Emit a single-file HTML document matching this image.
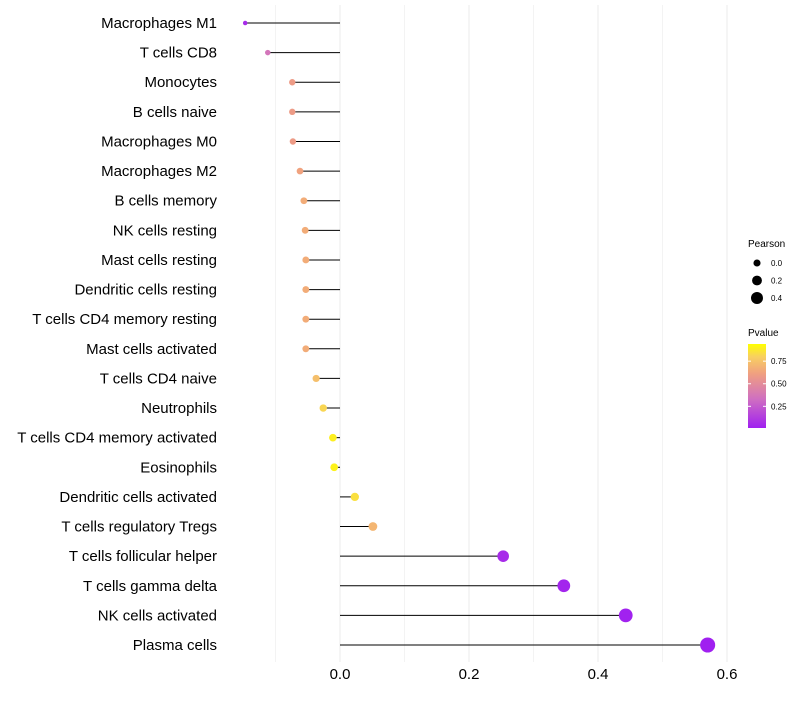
<!DOCTYPE html>
<html><head><meta charset="utf-8"><style>
body{margin:0;background:#fff;font-family:"Liberation Sans",sans-serif}
svg text{font-family:"Liberation Sans",sans-serif}
</style></head><body>
<svg id="c" width="800" height="700">
<defs><linearGradient id="pg" x1="0" y1="1" x2="0" y2="0">
<stop offset="0" stop-color="#a020f0"/><stop offset="0.35" stop-color="#d070c0"/><stop offset="0.65" stop-color="#f0a080"/><stop offset="0.85" stop-color="#f8d060"/><stop offset="1" stop-color="#ffff00"/></linearGradient></defs>
<g id="grid"></g><g id="marks"></g><g id="labels"></g><g id="ticks"></g>
<g id="legend">
<text x="748" y="247" font-size="10">Pearson</text>
<text x="748" y="336" font-size="10">Pvalue</text>
<rect x="748" y="344" width="18" height="84" fill="url(#pg)"/>
</g>
</svg>
<script>
const cats=["Macrophages M1","T cells CD8","Monocytes","B cells naive","Macrophages M0","Macrophages M2","B cells memory","NK cells resting","Mast cells resting","Dendritic cells resting","T cells CD4 memory resting","Mast cells activated","T cells CD4 naive","Neutrophils","T cells CD4 memory activated","Eosinophils","Dendritic cells activated","T cells regulatory  Tregs","T cells follicular helper","T cells gamma delta","NK cells activated","Plasma cells"];
const pearson=[-0.147,-0.112,-0.074,-0.074,-0.073,-0.062,-0.056,-0.054,-0.053,-0.053,-0.053,-0.053,-0.037,-0.026,-0.011,-0.009,0.023,0.051,0.253,0.347,0.443,0.570];
const pvals=[0.05,0.38,0.62,0.62,0.62,0.66,0.7,0.7,0.7,0.7,0.7,0.7,0.78,0.87,0.95,0.96,0.9,0.74,0.05,0.02,0.01,0.001];
const xTicks=[0,0.2,0.4,0.6];
const xTickLabels=["0.0","0.2","0.4","0.6"];
const sizeLegend=[0,0.2,0.4];
const colorTicks=[0.25,0.5,0.75];
const colorTickLabels=["0.25","0.50","0.75"];
const NS="http://www.w3.org/2000/svg";
const x=v=>340+v*645;
const y=i=>23+i*(622/21);
const r=v=>Math.sqrt(Math.max(2,5+72*(v+0.147)));
const stops=[[0,[160,32,240]],[0.35,[208,112,192]],[0.65,[240,160,128]],[0.85,[248,208,96]],[1,[255,255,0]]];
function col(p){for(let k=1;k<stops.length;k++){if(p<=stops[k][0]){const a=stops[k-1],b=stops[k];const t=(p-a[0])/(b[0]-a[0]);const c=a[1].map((v,j)=>Math.round(v+(b[1][j]-v)*t));return `rgb(${c})`;}}return "rgb(255,255,0)";}
function mk(t,at,parent){const e=document.createElementNS(NS,t);for(const k in at)e.setAttribute(k,at[k]);document.getElementById(parent).appendChild(e);return e;}
for(let v=-0.1;v<=0.65;v+=0.1){const g=mk("line",{x1:x(v),x2:x(v),y1:5,y2:662,stroke:"#ebebeb","stroke-width":Math.abs(Math.round(v*10)%2)==0?1:0.6},"grid");

}
cats.forEach((c,i)=>{
const l=mk("line",{x1:x(0),x2:x(pearson[i]),y1:y(i),y2:y(i),stroke:"#000","stroke-width":1},"marks");


const d=mk("circle",{cx:x(pearson[i]),cy:y(i),r:r(pearson[i]),fill:col(pvals[i])},"marks");


const t=mk("text",{x:217,y:y(i)+5,"text-anchor":"end","font-size":15,fill:"#000"},"labels");
t.textContent=c;


});
xTicks.forEach((v,i)=>{const t=mk("text",{x:x(v),y:679,"text-anchor":"middle","font-size":15,fill:"#000"},"ticks");
t.textContent=xTickLabels[i];

});
sizeLegend.forEach((v,i)=>{const cy=263+i*17.5;
const d=mk("circle",{cx:757,cy:cy,r:r(v)*0.9,fill:"#000"},"legend");


const t=mk("text",{x:771,y:cy+3,"font-size":8},"legend");t.textContent=v.toFixed(1);

});
colorTicks.forEach((v,i)=>{const cy=428-(v-0.01)/0.93*84;
const t=mk("text",{x:771,y:cy+3,"font-size":8},"legend");t.textContent=colorTickLabels[i];


const l=mk("line",{x1:748,x2:751,y1:cy,y2:cy,stroke:"#fff"},"legend");


const l2=mk("line",{x1:763,x2:766,y1:cy,y2:cy,stroke:"#fff"},"legend");

});
</script>
</body></html>
